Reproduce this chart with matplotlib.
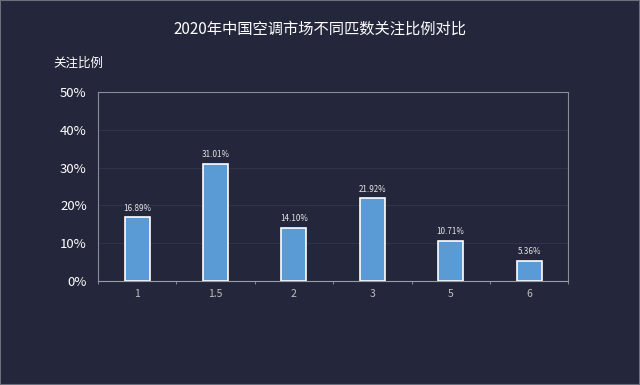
import matplotlib
matplotlib.use("Agg")
import matplotlib.pyplot as plt
from matplotlib.ticker import FuncFormatter, MultipleLocator
import numpy as np

plt.rcParams['font.family'] = ['Noto Sans CJK SC', 'DejaVu Sans']

categories = ["1", "1.5", "2", "3", "5", "6"]
values = [16.89, 31.01, 14.10, 21.92, 10.71, 5.36]
labels = ["16.89%", "31.01%", "14.10%", "21.92%", "10.71%", "5.36%"]
title = "2020年中国空调市场不同匹数关注比例对比"
ylabel = "关注比例"

bg = "#24273b"
fig = plt.figure(figsize=(6.4, 3.85), dpi=100, facecolor=bg)
ax = fig.add_axes([0.153, 0.270, 0.735, 0.491], facecolor=bg)

x = np.arange(len(categories))
bars = ax.bar(x, values, width=0.32, color="#5b9bd5", edgecolor="white", linewidth=1.2, zorder=3)
for xi, v, lab in zip(x, values, labels):
    ax.text(xi, v + 1.2, lab, ha="center", va="bottom", fontsize=5.8, color="#e6e6e6")

ax.set_xlim(-0.5, len(categories) - 0.5)
ax.set_ylim(0, 50)
ax.yaxis.set_major_locator(MultipleLocator(10))
ax.yaxis.set_major_formatter(FuncFormatter(lambda v, p: f"{int(v)}%"))
ax.grid(axis="y", color="#34374a", linewidth=0.6, zorder=0)

ax.set_xticks(x)
ax.set_xticklabels(categories)
ax.set_xticks(np.arange(len(categories) + 1) - 0.5, minor=True)
ax.tick_params(axis="x", which="major", length=0, colors="#bfbfbf", labelsize=7.5, pad=6)
ax.tick_params(axis="x", which="minor", length=2.5, direction="out", color="#9a9ca8")
ax.tick_params(axis="y", length=0, colors="white", labelsize=9.5, pad=8)

for s in ax.spines.values():
    s.set_color("#8a8c99")
    s.set_linewidth(0.8)
ax.spines["bottom"].set_color("#9a9ca8")

fig.text(0.5, 0.925, title, ha="center", va="center", fontsize=11, color="white")
fig.text(0.083, 0.835, ylabel, ha="left", va="center", fontsize=9, color="white")

border = plt.Rectangle((0, 0), 1, 1, transform=fig.transFigure, fill=False, edgecolor="#6b6e7c", linewidth=1.5)
fig.patches.append(border)

fig.savefig("out.png", dpi=100, facecolor=bg)
